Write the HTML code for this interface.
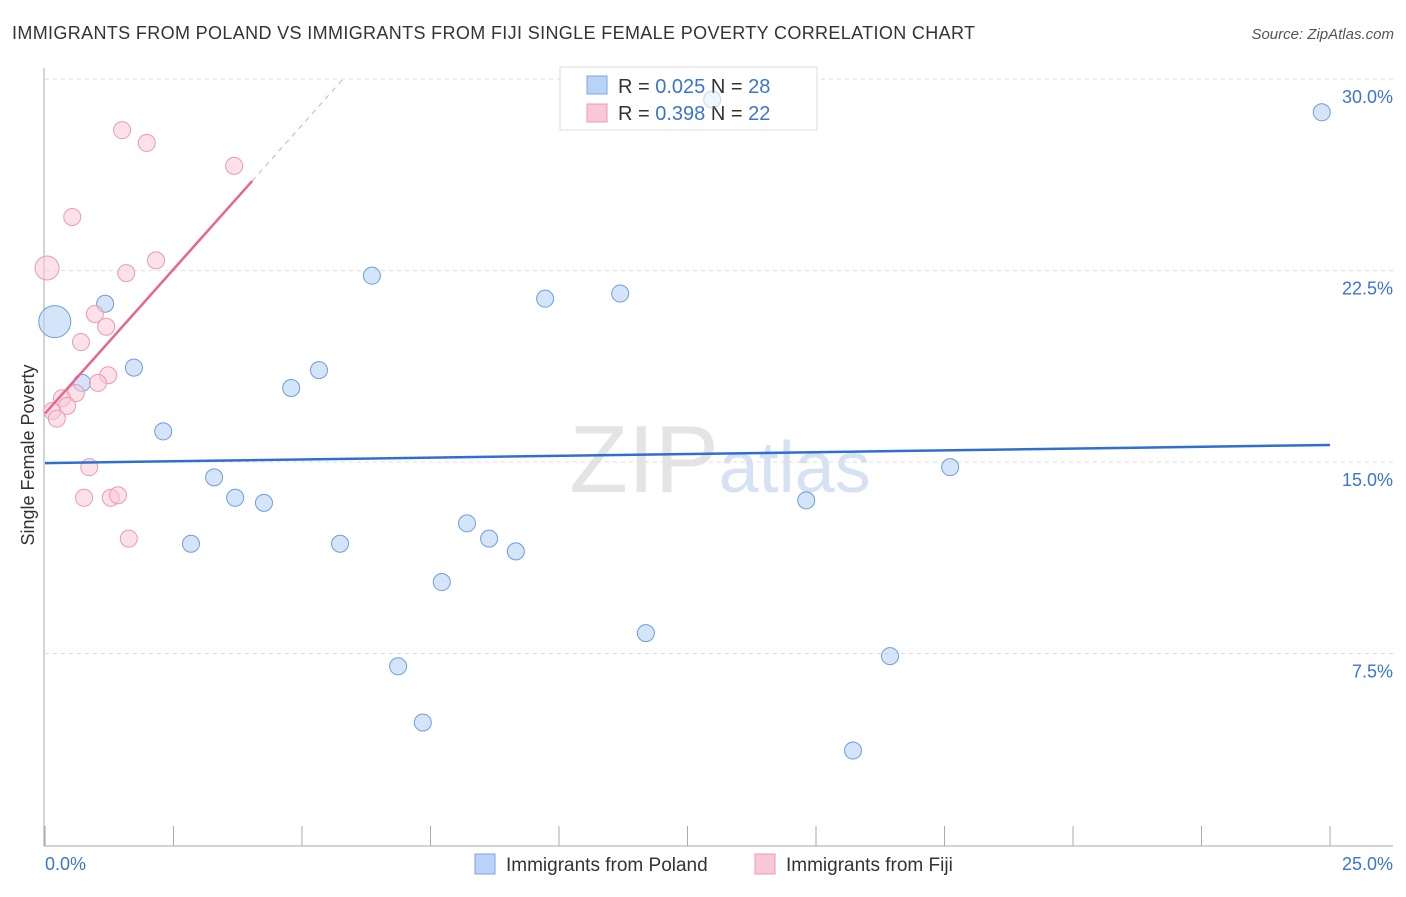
<!DOCTYPE html>
<html><head><meta charset="utf-8"><style>
body{margin:0;background:#fff;font-family:"Liberation Sans",sans-serif}
svg text{font-family:"Liberation Sans",sans-serif}
</style></head><body>
<svg width="1406" height="892" xmlns="http://www.w3.org/2000/svg">
<text x="12" y="39" font-size="18" fill="#333" textLength="963">IMMIGRANTS FROM POLAND VS IMMIGRANTS FROM FIJI SINGLE FEMALE POVERTY CORRELATION CHART</text>
<text x="1394" y="39" font-size="15" fill="#555" text-anchor="end" font-style="italic">Source: ZipAtlas.com</text>
<text x="720" y="492" font-size="96" fill="#e4e4e4" text-anchor="middle" font-family="Liberation Serif">ZIP<tspan fill="#d6e2f3" font-family="Liberation Sans" font-size="72">atlas</tspan></text>
<g id="grid"></g>
<g id="axes"></g>
<g>
<rect x="560" y="67" width="257" height="63" fill="#fff" stroke="#ddd"/>
<rect x="587" y="76" width="20" height="18" fill="#b8d3f5" stroke="#7aa7e0"/>
<text x="618" y="93" font-size="20" fill="#333">R = <tspan fill="#3b74d1">0.025</tspan>   N = <tspan fill="#3b74d1">28</tspan></text>
<rect x="587" y="104" width="20" height="18" fill="#f9c8d6" stroke="#eb9ab2"/>
<text x="618" y="120" font-size="20" fill="#333">R =  <tspan fill="#3b74d1">0.398</tspan>   N = <tspan fill="#3b74d1">22</tspan></text>
</g>
<g id="marks"></g>
<text transform="translate(34,455) rotate(-90)" font-size="18" fill="#333" text-anchor="middle">Single Female Poverty</text>
<g>
<rect x="475" y="854" width="20" height="20" fill="#b8d3f5" stroke="#7aa7e0"/>
<text x="506" y="871" font-size="19" fill="#333">Immigrants from Poland</text>
<rect x="755" y="854" width="20" height="20" fill="#f9c8d6" stroke="#eb9ab2"/>
<text x="786" y="871" font-size="19" fill="#333">Immigrants from Fiji</text>
</g>
</svg>
<script>
const yTicks=[7.5,15,22.5,30];
const yTickLabels=["7.5%","15.0%","22.5%","30.0%"];
const xTickLabels=["0.0%","25.0%"];
const polandX=[0.19,1.17,1.73,0.72,2.30,3.29,3.70,4.26,2.84,4.79,5.33,5.74,6.36,6.87,7.35,7.72,8.21,8.64,9.16,9.73,11.19,11.69,12.98,14.81,15.72,16.44,17.61,24.84];
const polandY=[20.5,21.2,18.7,18.1,16.2,14.4,13.6,13.4,11.8,17.9,18.6,11.8,22.3,7.0,4.8,10.3,12.6,12.0,11.5,21.4,21.6,8.3,29.2,13.5,3.7,7.4,14.8,28.7];
const fijiX=[0.04,0.53,1.50,1.98,3.68,2.16,1.58,0.97,1.19,0.70,1.23,1.03,0.60,0.33,0.43,0.14,0.23,0.86,0.76,1.28,1.42,1.63];
const fijiY=[22.6,24.6,28.0,27.5,26.6,22.9,22.4,20.8,20.3,19.7,18.4,18.1,17.7,17.5,17.2,17.0,16.7,14.8,13.6,13.6,13.7,12.0];
const polandTrend=[14.96,15.67];
const fijiTrend=[16.9,2.26];
const NS="http://www.w3.org/2000/svg";
const X=v=>45+v*51.4, Y=v=>845-v*25.53;
function mk(t,a,p){const e=document.createElementNS(NS,t);for(const k in a)e.setAttribute(k,a[k]);document.getElementById(p).appendChild(e);return e;}
yTicks.forEach((t,i)=>{
 const g=mk('line',{x1:45,x2:1393,y1:Y(t),y2:Y(t),stroke:'#ddd','stroke-dasharray':'4,4'},'grid');
 
 
 const l=mk('text',{x:1393,y:Y(t)+24,'font-size':18,fill:'#3b74d1','text-anchor':'end'},'axes');
 l.textContent=yTickLabels[i];
 
 
});
const ax=mk('line',{x1:44,x2:44,y1:68,y2:846,stroke:'#aaa'},'axes');


const bx=mk('line',{x1:44,x2:1393,y1:846,y2:846,stroke:'#aaa'},'axes');


for(let i=0;i<=10;i++){const t=mk('line',{x1:X(i*2.5),x2:X(i*2.5),y1:826,y2:846,stroke:'#aaa'},'axes');
 
 }
xTickLabels.forEach((s,i)=>{const t=mk('text',{x:i?1393:45,y:870,'font-size':18,fill:'#3b74d1','text-anchor':i?'end':'start'},'axes');t.textContent=s;
 
 });
polandX.forEach((x,i)=>{const r=i===0?16:8.5;const op=i===22?0.35:1;const c=mk('circle',{cx:X(x),cy:Y(polandY[i]),r:r,fill:'#b8d3f5','fill-opacity':0.6*op,stroke:'#6c9de0','stroke-opacity':op},'marks');
 
 });
fijiX.forEach((x,i)=>{const r=i===0?12:8.5;const c=mk('circle',{cx:X(x),cy:Y(fijiY[i]),r:r,fill:'#f9c8d6','fill-opacity':0.55,stroke:'#eb9ab2'},'marks');
 
 });
const pl=mk('line',{x1:X(0),x2:X(25),y1:Y(polandTrend[0]),y2:Y(polandTrend[1]),stroke:'#2f6fd3','stroke-width':2.5},'marks');


const fe=4.03, fd=(30-fijiTrend[0])/fijiTrend[1];
const fl=mk('line',{x1:X(0),x2:X(fe),y1:Y(fijiTrend[0]),y2:Y(fijiTrend[0]+fijiTrend[1]*fe),stroke:'#e8668e','stroke-width':2.5},'marks');


const fd2=mk('line',{x1:X(fe),x2:X(fd),y1:Y(fijiTrend[0]+fijiTrend[1]*fe),y2:Y(30),stroke:'#e8a0b5','stroke-width':1,'stroke-dasharray':'5,5'},'marks');


</script>
</body></html>
